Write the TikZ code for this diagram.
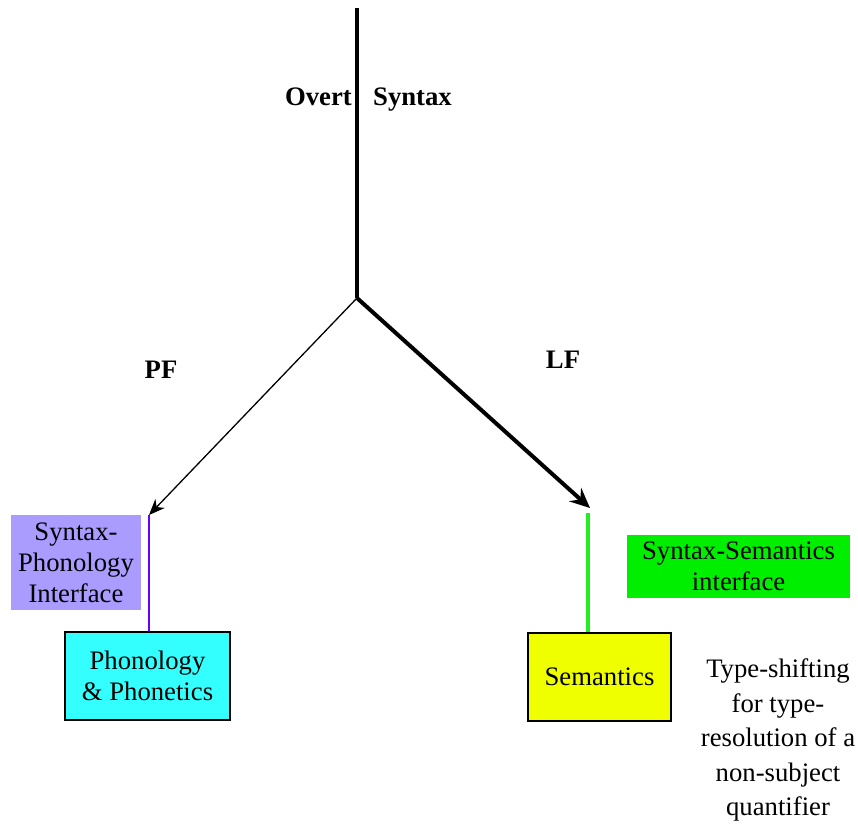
\documentclass[tikz,border=0pt]{standalone}
\usepackage{fontspec}
\setmainfont{Liberation Serif}
\usetikzlibrary{arrows.meta,positioning}

\definecolor{spipurple}{RGB}{170,155,255}
\definecolor{spiline}{RGB}{102,0,255}
\definecolor{phoncyan}{RGB}{51,255,255}
\definecolor{semyellow}{RGB}{240,255,0}
\definecolor{ssigreen}{RGB}{0,238,0}
\definecolor{ssiline}{RGB}{34,238,34}

\tikzset{
  lab/.style={font=\rmfamily\bfseries\fontsize{26.7}{31}\selectfont, inner sep=0pt},
  compbox/.style={draw=black, line width=1.2pt, align=center, inner sep=0pt,
    font=\rmfamily\fontsize{26.7}{31}\selectfont},
  ifbox/.style={align=center, inner sep=0pt, font=\rmfamily\fontsize{26.7}{31}\selectfont}
}

\begin{document}
\begin{tikzpicture}[x=1pt,y=-1pt]
            \useasboundingbox (0,0) rectangle (858,823);
            % trunk and branches
            \coordinate (top) at (357,8);
            \coordinate (split) at (357,298);
            \coordinate (pfend) at (149,515);
            \coordinate (lfend) at (590,508);
            \coordinate (semtop) at (588,513);
            \draw[line width=4pt] (top) -- (split);
            \draw[line width=1.3pt, -{Stealth[length=16pt,width=13pt,inset=5pt]}] (split) -- (pfend);
            \draw[line width=4pt, -{Stealth[length=20pt,width=18pt,inset=7pt]}] (split) -- (lfend);
            % labels
            \node[lab, anchor=base east] (overt) at (352,105) {Overt};
            \node[lab, anchor=base west] (syntax) at (373,105) {Syntax};
            \node[lab] (pf) at (161,370) {PF};
            \node[lab] (lf) at (563,360) {LF};
            % boxes
            \node[ifbox, fill=spipurple, minimum width=130pt, minimum height=95pt] (spi) at (76,562.5) {Syntax-\\Phonology\\Interface};
            \node[compbox, fill=phoncyan, minimum width=165pt, minimum height=88pt] (phon) at (147.5,676) {Phonology\\\& Phonetics};
            \node[ifbox, fill=ssigreen, minimum width=223pt, minimum height=63pt] (ssi) at (738.5,566.5) {Syntax-Semantics\\interface};
            \node[compbox, fill=semyellow, minimum width=143pt, minimum height=88pt] (sem) at (599.5,677) {Semantics};
            \node[align=center, inner sep=0pt, font=\rmfamily\fontsize{26.7}{34.5}\selectfont] (tshift) at (778,740) {Type-shifting\\for type-\\resolution of a\\non-subject\\quantifier};
            % interface lines
            \draw[spiline, line width=1.3pt] (pfend) -- (pfend |- phon.north);
            \draw[ssiline, line width=4pt] (semtop) -- (semtop |- sem.north);
\end{tikzpicture}
\end{document}
